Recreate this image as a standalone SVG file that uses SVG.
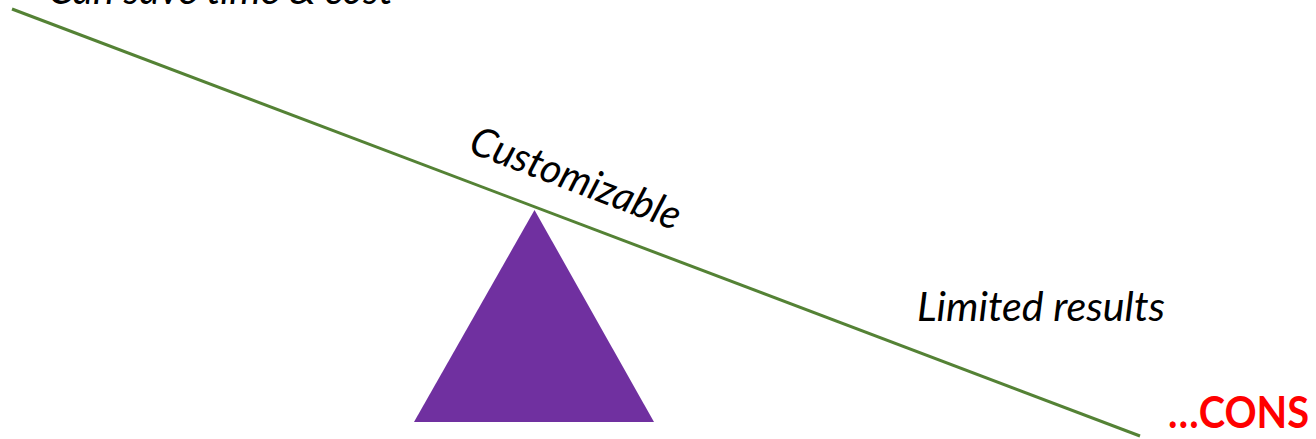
<svg xmlns="http://www.w3.org/2000/svg" width="1316" height="439" viewBox="0 0 1316 439">
  <style>
    .lbl { font-family: Lato, "Open Sans", "Liberation Sans", sans-serif; font-style: italic; font-size: 41px; fill: #000; }
    .cons { font-family: Lato, "Open Sans", "Liberation Sans", sans-serif; font-weight: bold; font-size: 44px; fill: #FF0000; }
    .beam { stroke: #548235; stroke-width: 3; fill: none; }
    .fulcrum { fill: #7030A0; }
  </style>
  <rect width="1316" height="439" fill="#fff"/>
  <g id="connectors">
    <line class="beam" x1="12" y1="9" x2="1140" y2="436"/>
  </g>
  <g id="fulcrum">
    <polygon class="fulcrum" points="534.5,210 414,422 654,422"/>
  </g>
  <g id="pro-label">
    <text class="lbl" x="48" y="4" textLength="345" lengthAdjust="spacingAndGlyphs">Can save time &amp; cost</text>
  </g>
  <g id="customizable-label">
    <text class="lbl" transform="translate(467,152) rotate(20.7)" textLength="222" lengthAdjust="spacingAndGlyphs">Customizable</text>
  </g>
  <g id="con-label">
    <text class="lbl" x="917" y="321" textLength="248" lengthAdjust="spacingAndGlyphs">Limited results</text>
  </g>
  <g id="cons-heading">
    <text class="cons" x="1168" y="428" textLength="141" lengthAdjust="spacingAndGlyphs">…CONS</text>
  </g>
</svg>
